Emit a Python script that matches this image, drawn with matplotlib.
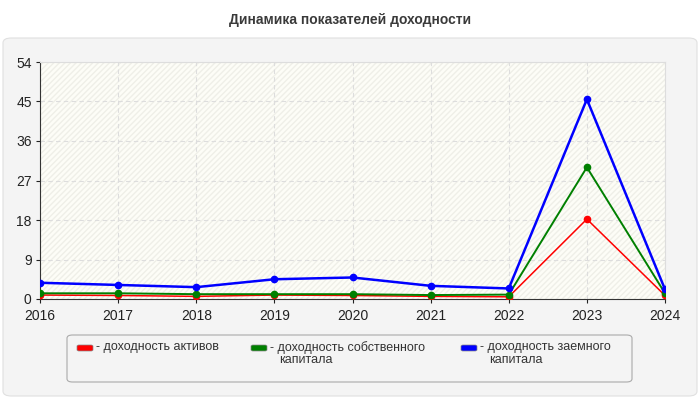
import matplotlib
matplotlib.use("Agg")
import matplotlib.pyplot as plt
from matplotlib.patches import FancyBboxPatch, Rectangle

years = ["2016", "2017", "2018", "2019", "2020", "2021", "2022", "2023", "2024"]
roa = [0.9, 0.8, 0.6, 0.9, 0.8, 0.6, 0.5, 18.2, 0.8]
roe = [1.3, 1.3, 1.1, 1.1, 1.1, 0.9, 1.0, 30.0, 1.3]
rod = [3.7, 3.2, 2.7, 4.5, 4.9, 3.0, 2.4, 45.5, 2.2]
labels = ["доходность активов", "доходность собственного\nкапитала", "доходность заемного\nкапитала"]
colors = ["#ff0000", "#008000", "#0000ff"]
yticks = [0, 9, 18, 27, 36, 45, 54]

plt.rcParams['font.family'] = ['Liberation Sans', 'DejaVu Sans']
fig = plt.figure(figsize=(7, 4), dpi=100)
fig.patch.set_facecolor("white")

W, H = 700, 400
def fx(px): return px / W
def fy(py): return 1 - py / H

panel = FancyBboxPatch((fx(3), fy(396)), fx(694), (396 - 38) / H,
                       boxstyle="round,pad=0,rounding_size=0.012",
                       transform=fig.transFigure, facecolor="#f4f4f4",
                       edgecolor="#e0e0e0", linewidth=0.8, zorder=-10)
fig.patches.append(panel)

fig.text(0.5, fy(20), "Динамика показателей доходности", ha="center", va="center",
         fontsize=10, fontweight="bold", color="#3a3a3a")

ax = fig.add_axes([fx(40), fy(299), fx(665) - fx(40), (299 - 62) / H])
ax.set_zorder(5)
ax.set_facecolor("#fdfdf7")
ax.add_patch(Rectangle((0, 0), 1, 1, transform=ax.transAxes, facecolor="none",
                       edgecolor="#efefe8", hatch="//////", linewidth=0, zorder=0))

x = list(range(len(years)))
for vals, c, lw in zip([roa, roe, rod], colors, [1.1, 1.4, 1.8]):
    ax.plot(x, vals, color=c, linewidth=lw, marker="o", markersize=4.5, zorder=3)
ax.set_xlim(0, len(years) - 1)
ax.set_ylim(0, 54)
ax.set_xticks(x)
ax.set_xticklabels(years)
ax.set_yticks(yticks)
ax.set_yticklabels([str(t) for t in yticks])
ax.grid(True, color="#dddddd", linestyle=(0, (4, 3)), linewidth=0.8)
ax.set_axisbelow(True)
for s in ["top", "right"]:
    ax.spines[s].set_color("#dddddd")
for s in ["left", "bottom"]:
    ax.spines[s].set_color("#333333")
ax.tick_params(axis="both", labelsize=10, colors="#222222", length=3)
ax.tick_params(axis="x", pad=4)
ax.tick_params(axis="y", pad=3)

leg = FancyBboxPatch((fx(67), fy(382)), fx(632) - fx(67), (382 - 335) / H,
                     boxstyle="round,pad=0,rounding_size=0.008",
                     transform=fig.transFigure, facecolor="#f4f4f4",
                     edgecolor="#aaaaaa", linewidth=0.8, zorder=1)
fig.patches.append(leg)

item_x = [77, 251, 461]
for px, c, lab in zip(item_x, colors, labels):
    fig.patches.append(FancyBboxPatch((fx(px), fy(351)), fx(16), 6 / H,
                                      boxstyle="round,pad=0,rounding_size=0.003",
                                      transform=fig.transFigure, facecolor=c,
                                      edgecolor="#888888", linewidth=0.5, zorder=2))
    fig.text(fx(px + 19), fy(341), "- " + lab.split("\n")[0], ha="left", va="top",
             fontsize=9, color="#333333")
    if "\n" in lab:
        fig.text(fx(px + 28), fy(354), lab.split("\n")[1], ha="left", va="top",
                 fontsize=9, color="#333333")

fig.savefig("out.png", dpi=100)
